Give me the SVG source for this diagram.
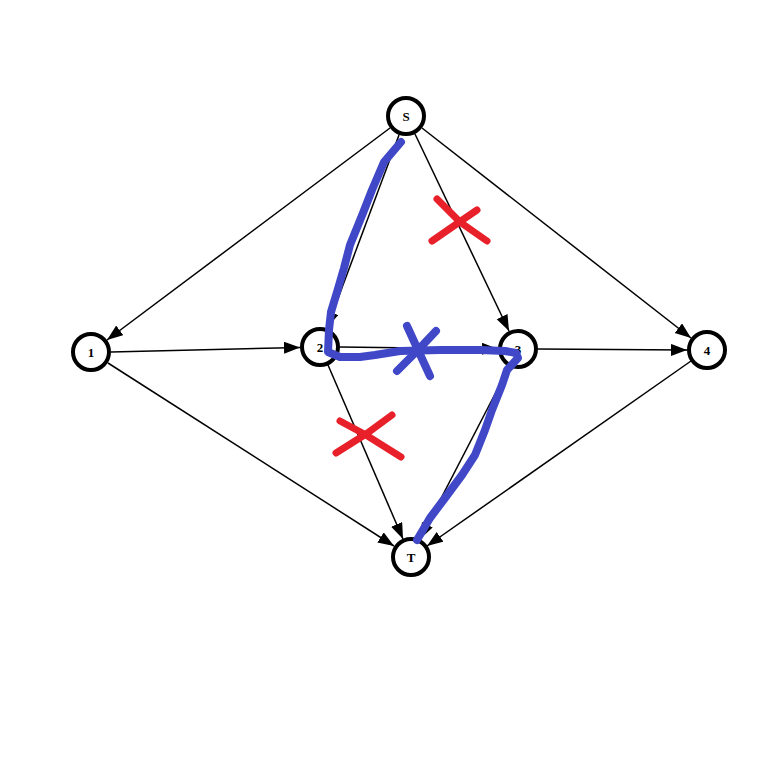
<svg xmlns="http://www.w3.org/2000/svg" width="775" height="775" viewBox="0 0 775 775">
<style>
.node circle{fill:#fff;stroke:#000;stroke-width:4}
.node text{font-family:"Liberation Serif","DejaVu Serif",serif;font-weight:bold;font-size:13px;text-anchor:middle;dominant-baseline:central;fill:#000}
.edge{stroke:#000;stroke-width:1.5;fill:none;marker-end:url(#arr)}
.blue{stroke:#4048c8;stroke-width:8;fill:none;stroke-linecap:round;stroke-linejoin:round}
.red{stroke:#e8202a;stroke-width:7;fill:none;stroke-linecap:round}
</style>
<defs>
<marker id="arr" markerUnits="userSpaceOnUse" markerWidth="17" markerHeight="13" refX="16" refY="6" orient="auto">
<path d="M0,0 L16,6 L0,12 z" fill="#000"/>
</marker>
</defs>
<rect width="775" height="775" fill="#fff"/>
<g id="connectors">
<line class="edge" x1="390" y1="128" x2="107" y2="340"/>
<line class="edge" x1="399" y1="135" x2="327" y2="328"/>
<line class="edge" x1="415" y1="134" x2="509" y2="331"/>
<line class="edge" x1="422" y1="128" x2="691" y2="338"/>
<line class="edge" x1="111" y1="352" x2="300" y2="347.4"/>
<line class="edge" x1="108" y1="363" x2="394" y2="546"/>
<line class="edge" x1="340" y1="347" x2="498" y2="349"/>
<line class="edge" x1="328" y1="365" x2="403" y2="539"/>
<line class="edge" x1="538" y1="349" x2="687" y2="350"/>
<line class="edge" x1="509" y1="367" x2="420" y2="539"/>
<line class="edge" x1="691" y1="361" x2="427" y2="546"/>
</g>
<g id="node-S" class="node"><circle cx="406" cy="116" r="18"/><text x="406" y="116">S</text></g>
<g id="node-1" class="node"><circle cx="91" cy="352" r="18"/><text x="91" y="352">1</text></g>
<g id="node-2" class="node"><circle cx="320" cy="347" r="18"/><text x="320" y="347">2</text></g>
<g id="node-3" class="node"><circle cx="518" cy="349" r="18"/><text x="518" y="349">3</text></g>
<g id="node-4" class="node"><circle cx="707" cy="350" r="18"/><text x="707" y="350">4</text></g>
<g id="node-T" class="node"><circle cx="411" cy="557" r="18"/><text x="411" y="557">T</text></g>
<g id="annotations">
<path class="blue" d="M401,142 L384,162 L372,190 L363,213 L350,245 L344,268 L337,292 L331,312 L329,330 L328,352 L340,357 L360,357 L375,355 L400,351 L440,350 L480,350 L505,351 L516,353 L518,358 L507,370 L502,385 L492,410 L485,430 L475,455 L462,475 L445,498 L430,518 L417,540"/>
<path class="blue" d="M407,326 L418,350 L430,376 M397,371 L418,350 L436,331"/>
<path class="red" d="M437,199 L460,222 L487,241 M432,241 L458,223 L477,210"/>
<path class="red" d="M340,421 L366,435 L401,457 M336,453 L366,434 L392,415"/>
</g>
</svg>
